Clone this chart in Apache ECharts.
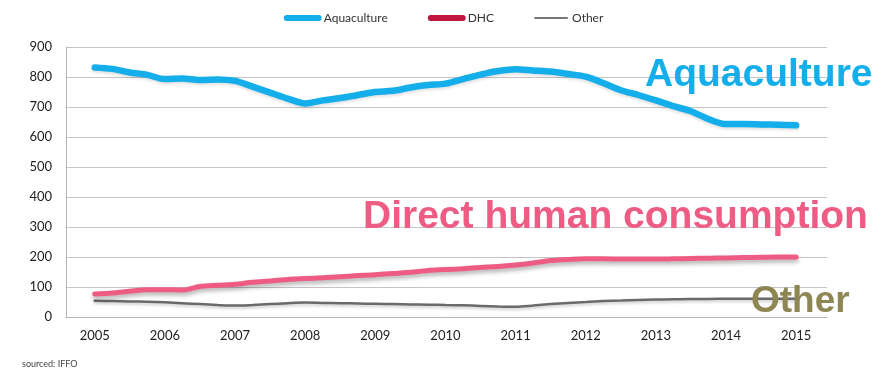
<!DOCTYPE html>
<html>
<head>
<meta charset="utf-8">
<style>
  html, body { margin: 0; padding: 0; background: #fff; }
  #chart { width: 887px; height: 374px; }
</style>
<script src="https://cdn.jsdelivr.net/npm/echarts@6/dist/echarts.min.js"></script>
</head>
<body>
<div id="chart"></div>
<script>
// Fishmeal use by sector, quarterly readings 2005–2015 (thousand tonnes)
const years = [
  2005.00, 2005.25, 2005.50, 2005.75,
  2006.00, 2006.25, 2006.50, 2006.75,
  2007.00, 2007.25, 2007.50, 2007.75,
  2008.00, 2008.25, 2008.50, 2008.75,
  2009.00, 2009.25, 2009.50, 2009.75,
  2010.00, 2010.25, 2010.50, 2010.75,
  2011.00, 2011.25, 2011.50, 2011.75,
  2012.00, 2012.25, 2012.50, 2012.75,
  2013.00, 2013.25, 2013.50, 2013.75,
  2014.00, 2014.25, 2014.50, 2014.75,
  2015.00
];
const aquaculture = [
  832, 827, 815, 807,
  793, 795, 790, 792,
  787, 768, 748, 728,
  712, 722, 730, 740,
  750, 754, 765, 773,
  778, 793, 808, 820,
  826, 822, 818, 810,
  801, 780, 756, 740,
  722, 703, 686, 660,
  643, 643, 642, 641,
  639
];
const dhc = [
  77, 80, 86, 91,
  91, 90, 102, 106,
  109, 116, 120, 125,
  128, 131, 134, 138,
  141, 145, 149, 155,
  158, 161, 165, 168,
  173, 180, 188, 192,
  194, 194, 193, 193,
  193, 194, 195, 196,
  197, 198, 199, 200,
  200
];
const other = [
  54, 53, 52, 51,
  49, 46, 43, 40,
  38, 40, 43, 46,
  48, 47, 46, 45,
  44, 43, 42, 41,
  40, 39, 37, 35,
  34, 38, 43, 47,
  50, 53, 55, 57,
  58, 59, 60, 60,
  61, 61, 61, 61,
  61
];
const yearTicks = [2005, 2006, 2007, 2008, 2009, 2010, 2011, 2012, 2013, 2014, 2015];
const seriesNames = ['Aquaculture', 'DHC', 'Other'];

const pairs = vals => years.map((y, i) => [y, vals[i]]);

const chart = echarts.init(document.getElementById('chart'), null, { renderer: 'canvas' });

const labelFont = 'Lato, "Open Sans", sans-serif';
const bigFont = '"Liberation Sans", Arial, sans-serif';

chart.setOption({
  animation: false,
  backgroundColor: '#ffffff',
  grid: { left: 66, right: 60, top: 47, bottom: 57, containLabel: false },
  legend: {
    top: 7,
    left: 'center',
    itemWidth: 32,
    itemHeight: 8,
    itemGap: 40,
    itemStyle: { opacity: 0 },
    textStyle: { fontFamily: labelFont, fontSize: 12, color: '#333' },
    data: [
      { name: seriesNames[0], lineStyle: { color: '#14AEEA', width: 6 } },
      { name: seriesNames[1], lineStyle: { color: '#C0163F', width: 6 } },
      { name: seriesNames[2], lineStyle: { color: '#777', width: 2 } }
    ]
  },
  xAxis: {
    type: 'value',
    min: 2004.59,
    max: 2015.44,
    splitLine: { show: false },
    axisLine: { show: true, onZero: false, lineStyle: { color: '#b5b5b5', width: 1 } },
    axisTick: { show: false },
    axisLabel: {
      customValues: yearTicks,
      formatter: v => String(Math.round(v)),
      fontFamily: labelFont,
      fontSize: 13,
      color: '#222',
      margin: 12
    }
  },
  yAxis: {
    type: 'value',
    min: 0,
    max: 900,
    interval: 100,
    splitLine: { show: true, lineStyle: { color: '#c4c4c4', width: 1 } },
    axisLine: { show: true, lineStyle: { color: '#b5b5b5', width: 1 } },
    axisTick: { show: false },
    axisLabel: { fontFamily: labelFont, fontSize: 13, color: '#222', margin: 14 }
  },
  series: [
    {
      name: seriesNames[0],
      type: 'line',
      data: pairs(aquaculture),
      showSymbol: false,
      symbol: 'none',
      smooth: 0.3,
      lineStyle: { color: '#14AEEA', width: 6.5, cap: 'round', join: 'round',
        shadowColor: 'rgba(0,0,0,0.12)', shadowBlur: 3, shadowOffsetY: 2 },
      itemStyle: { color: '#14AEEA' },
      z: 4
    },
    {
      name: seriesNames[1],
      type: 'line',
      data: pairs(dhc),
      showSymbol: false,
      symbol: 'none',
      smooth: 0.3,
      lineStyle: { color: '#EE5C84', width: 5, cap: 'round', join: 'round',
        shadowColor: 'rgba(0,0,0,0.3)', shadowBlur: 4, shadowOffsetY: 3 },
      itemStyle: { color: '#C0163F' },
      z: 3
    },
    {
      name: seriesNames[2],
      type: 'line',
      data: pairs(other),
      showSymbol: false,
      symbol: 'none',
      smooth: 0.3,
      lineStyle: { color: '#6a6a6a', width: 2.5, cap: 'round',
        shadowColor: 'rgba(0,0,0,0.2)', shadowBlur: 3, shadowOffsetY: 2 },
      itemStyle: { color: '#777' },
      z: 2
    }
  ],
  graphic: [
    {
      type: 'text', left: 645, top: 56, z: 10,
      style: { text: 'Aquaculture', fill: '#14AEEA', font: 'bold 39px ' + bigFont }
    },
    {
      type: 'text', left: 363, top: 198, z: 10,
      style: { text: 'Direct human consumption', fill: '#EE5C84', font: 'bold 39px ' + bigFont }
    },
    {
      type: 'text', left: 751, top: 283, z: 10,
      style: { text: 'Other', fill: '#8E8753', font: 'bold 37px ' + bigFont }
    },
    {
      type: 'text', left: 22, top: 360, z: 10,
      style: { text: 'sourced: IFFO', fill: '#444', font: '9px ' + labelFont }
    }
  ]
});
</script>
</body>
</html>
